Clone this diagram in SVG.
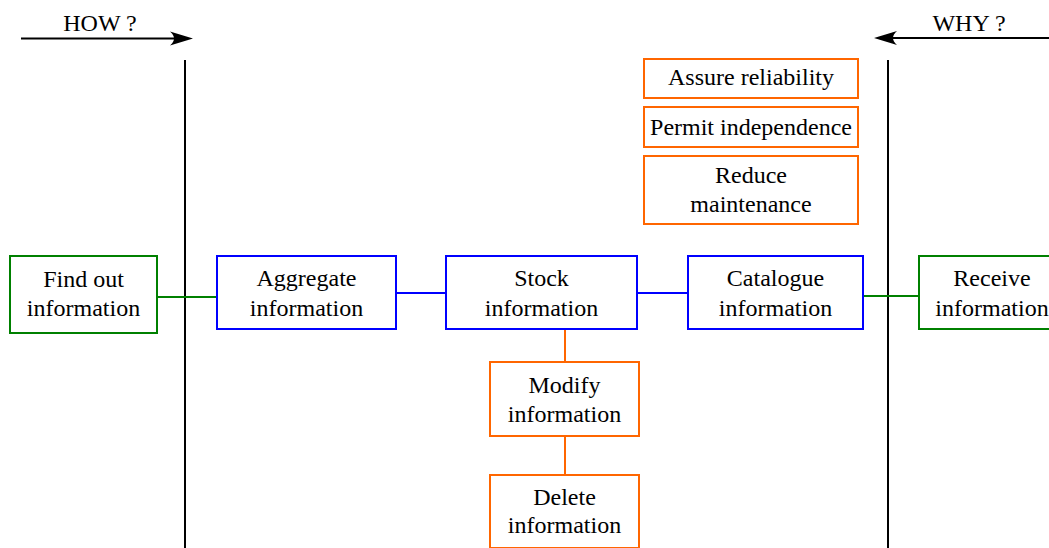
<svg xmlns="http://www.w3.org/2000/svg" width="1049" height="548" viewBox="0 0 1049 548">
<style>
text{font-family:"Liberation Serif","DejaVu Serif",serif;font-size:24px;fill:#000;text-anchor:middle}
.g{fill:#fff;stroke:#008000;stroke-width:2}
.b{fill:#fff;stroke:#0000ff;stroke-width:2}
.o{fill:#fff;stroke:#ff6600;stroke-width:2}
.axis{stroke:#000;stroke-width:2;fill:none}
.cg{stroke:#008000;stroke-width:2}
.cb{stroke:#0000ff;stroke-width:2}
.co{stroke:#ff6600;stroke-width:2}
</style>
<defs>
<marker id="arr" markerUnits="userSpaceOnUse" viewBox="-20 -8 26 16" markerWidth="26" markerHeight="16" refX="0" refY="0" orient="auto">
<path d="M5,0 L-18,-7 Q-10,0 -18,7 Z" fill="#000"/>
</marker>
</defs>
<rect width="1049" height="548" fill="#fff"/>
<g id="axes">
<line class="axis" x1="21" y1="38.5" x2="188" y2="38.5" marker-end="url(#arr)"/>
<text x="100" y="31">HOW ?</text>
<line class="axis" x1="1049" y1="38" x2="879" y2="38" marker-end="url(#arr)"/>
<text x="969" y="31">WHY ?</text>
<line class="axis" x1="185" y1="60" x2="185" y2="548"/>
<line class="axis" x1="888" y1="60" x2="888" y2="548"/>
</g>
<g id="connectors">
<line class="cg" x1="157" y1="297" x2="217" y2="297"/>
<line class="cb" x1="396" y1="293" x2="446" y2="293"/>
<line class="cb" x1="637" y1="293" x2="688" y2="293"/>
<line class="cg" x1="863" y1="296" x2="919" y2="296"/>
<line class="co" x1="565" y1="329" x2="565" y2="362"/>
<line class="co" x1="565" y1="436" x2="565" y2="475"/>
</g>
<g id="find-out">
<rect class="g" x="10" y="256" width="147" height="77"/>
<text x="83.5" y="287">Find out</text>
<text x="83.5" y="316">information</text>
</g>
<g id="aggregate">
<rect class="b" x="217" y="256" width="179" height="73"/>
<text x="306.5" y="286">Aggregate</text>
<text x="306.5" y="316">information</text>
</g>
<g id="stock">
<rect class="b" x="446" y="256" width="191" height="73"/>
<text x="541.5" y="286">Stock</text>
<text x="541.5" y="316">information</text>
</g>
<g id="catalogue">
<rect class="b" x="688" y="256" width="175" height="73"/>
<text x="775.5" y="286">Catalogue</text>
<text x="775.5" y="316">information</text>
</g>
<g id="receive">
<rect class="g" x="919" y="256" width="147" height="73"/>
<text x="992" y="286">Receive</text>
<text x="992" y="316">information</text>
</g>
<g id="modify">
<rect class="o" x="490" y="362" width="149" height="74"/>
<text x="564.5" y="393">Modify</text>
<text x="564.5" y="422">information</text>
</g>
<g id="delete">
<rect class="o" x="490" y="475" width="149" height="73"/>
<text x="564.5" y="505">Delete</text>
<text x="564.5" y="533">information</text>
</g>
<g id="assure">
<rect class="o" x="644" y="59" width="214" height="39"/>
<text x="751" y="85">Assure reliability</text>
</g>
<g id="permit">
<rect class="o" x="644" y="107" width="214" height="40"/>
<text x="751" y="135">Permit independence</text>
</g>
<g id="reduce">
<rect class="o" x="644" y="156" width="214" height="68"/>
<text x="751" y="183">Reduce</text>
<text x="751" y="212">maintenance</text>
</g>
</svg>
